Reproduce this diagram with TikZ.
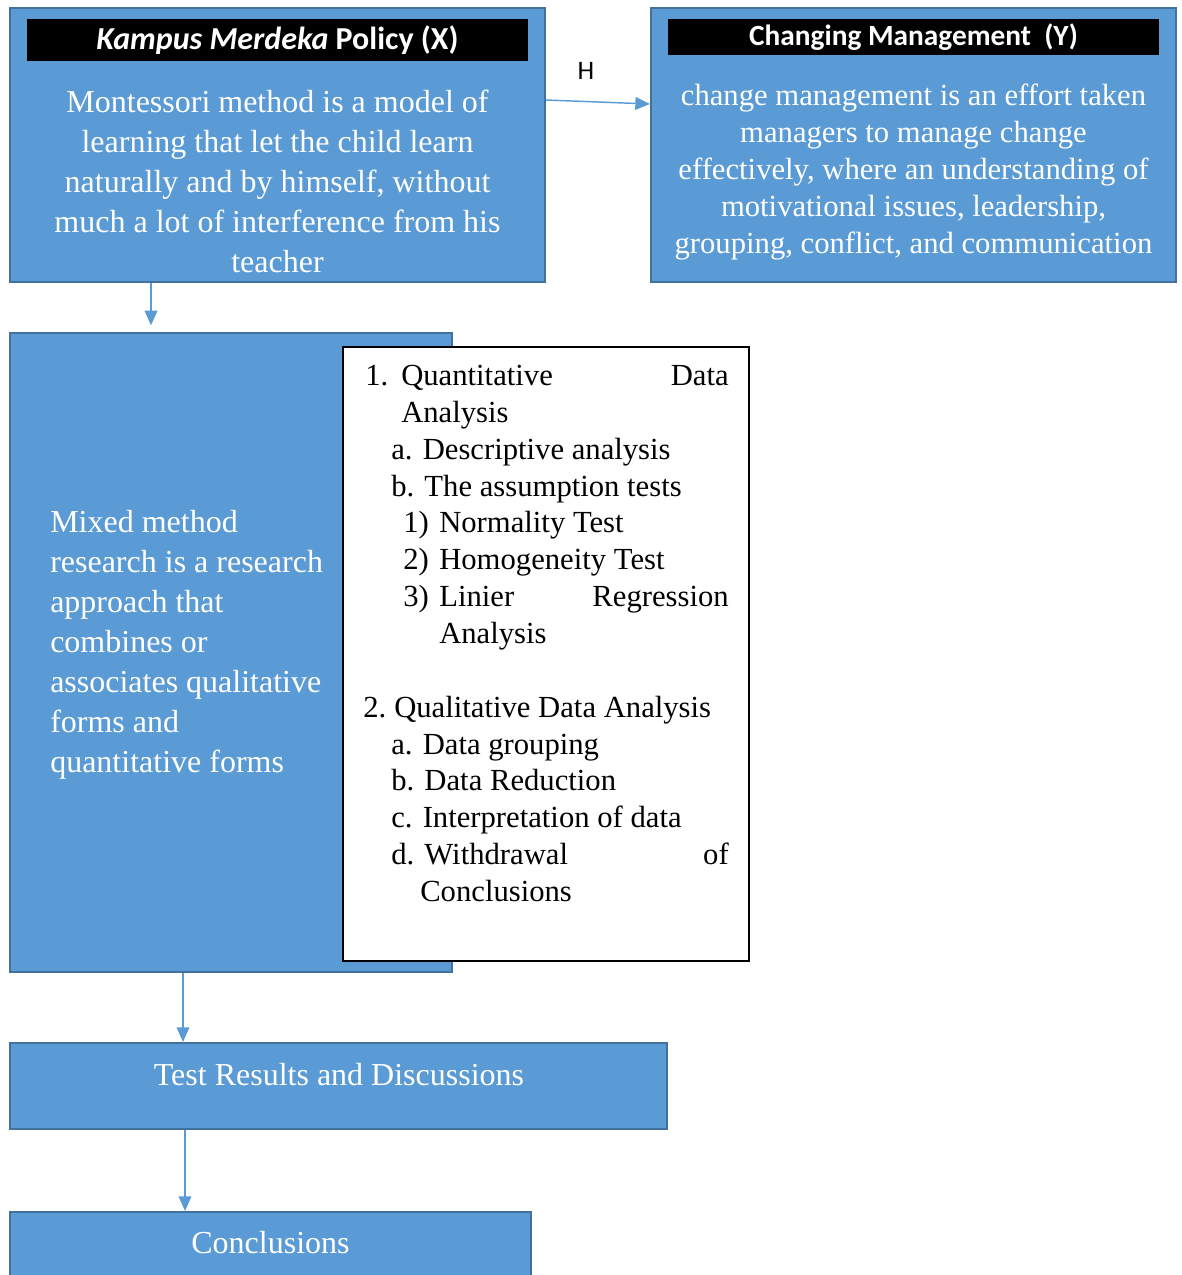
\documentclass[tikz,border=0pt]{standalone}
\usepackage{fontspec}
\setmainfont{Liberation Serif}
\newfontfamily\hdfont{Carlito}
\usetikzlibrary{arrows.meta}
\definecolor{boxblue}{HTML}{5B9BD5}
\definecolor{boxedge}{HTML}{41719C}
\begin{document}
\begin{tikzpicture}[x=0.75pt,y=-0.75pt,
 bluebox/.style={fill=boxblue,draw=boxedge,line width=1.5pt,inner sep=0},
 whitebox/.style={fill=white,draw=black,line width=0.8pt,inner sep=0},
 hdbar/.style={fill=black,inner sep=0,text=white,font=\hdfont\fontsize{22}{26}\selectfont\bfseries},
 bodytext/.style={text=white,font=\fontsize{24}{30}\selectfont,align=center,inner sep=0},
 lt/.style={font=\fontsize{23}{28}\selectfont,inner sep=0,anchor=base west},
 lte/.style={font=\fontsize{23}{28}\selectfont,inner sep=0,anchor=base east},
 link/.style={draw=boxblue,line width=1.1pt,-{Triangle[length=11pt,width=9.5pt]}},
]
\useasboundingbox (0,0) rectangle (1182,1275);

% top boxes
\node[bluebox,minimum width=401.25pt,minimum height=205.5pt] (bx) at (277.5,145) {};
\node[hdbar,minimum width=375.75pt,minimum height=31.5pt,font=\hdfont\fontsize{24}{28}\selectfont\bfseries] (hx) at (277.5,40) {\textit{Kampus Merdeka} Policy (X)};
\node[bodytext] (tx) at (277.5,181) {Montessori method is a model of\\learning that let the child learn\\naturally and by himself, without\\much a lot of interference from his\\teacher};

\node[bluebox,minimum width=393.75pt,minimum height=205.5pt] (by) at (913.5,145) {};
\node[hdbar,minimum width=368.25pt,minimum height=27pt] (hy) at (913.5,37) {Changing Management\ \ (Y)};
\node[bodytext,font=\fontsize{23}{27.75}\selectfont] (ty) at (913.5,172) {change management is an effort taken\\managers to manage change\\effectively, where an understanding of\\motivational issues, leadership,\\grouping, conflict, and communication};

\node[font=\hdfont\fontsize{20}{22}\selectfont,inner sep=0] (hl) at (586,71) {H};

% middle
\node[bluebox,minimum width=331.5pt,minimum height=479.25pt] (mx) at (231,652.5) {};
\node[text=white,font=\fontsize{24}{30}\selectfont,align=left,inner sep=0,anchor=west] (tm) at (50,645) {Mixed method\\research is a research\\approach that\\combines or\\associates qualitative\\forms and\\quantitative forms};

\node[whitebox,minimum width=304.5pt,minimum height=460.5pt] (wb) at (546,654) {};
\node[lt] (l1a) at (365,385) {1.};
\node[lt] (l1b) at (401,385) {Quantitative};
\node[lte] (l1c) at (729,385) {Data};
\node[lt] (l2) at (401,422) {Analysis};
\node[lt] (l3) at (391,459) {a. Descriptive analysis};
\node[lt] (l4) at (391,496) {b. The assumption tests};
\node[lt] (l5a) at (403,532) {1)};
\node[lt] (l5b) at (439,532) {Normality Test};
\node[lt] (l6a) at (403,569) {2)};
\node[lt] (l6b) at (439,569) {Homogeneity Test};
\node[lt] (l7a) at (403,606) {3)};
\node[lt] (l7b) at (439,606) {Linier};
\node[lte] (l7c) at (729,606) {Regression};
\node[lt] (l8) at (439,643) {Analysis};
\node[lt] (l9a) at (363,717) {2.};
\node[lt] (l9b) at (394,717) {Qualitative Data Analysis};
\node[lt] (l10) at (391,754) {a. Data grouping};
\node[lt] (l11) at (391,790) {b. Data Reduction};
\node[lt] (l12) at (391,827) {c. Interpretation of data};
\node[lt] (l13a) at (391,864) {d. Withdrawal};
\node[lte] (l13b) at (729,864) {of};
\node[lt] (l14) at (420,901) {Conclusions};

% bottom
\node[bluebox,minimum width=492.75pt,minimum height=64.5pt] (tb) at (338.5,1086) {};
\node[bodytext] (tt) at (339,1075) {Test Results and Discussions};
\node[bluebox,minimum width=390.75pt,minimum height=60pt] (cb) at (270.5,1252) {};
\node[bodytext] (ct) at (270.5,1243) {Conclusions};

% connectors
\coordinate (c1) at (151,0);
\coordinate (c2) at (183,0);
\coordinate (c3) at (185,0);
\draw[link] ([yshift=33.75pt]bx.east) -- ([yshift=30.75pt]by.west);
\draw[link,shorten >=5pt] (bx.south -| c1) -- (mx.north -| c1);
\draw[link] (mx.south -| c2) -- (tb.north -| c2);
\draw[link] (tb.south -| c3) -- (cb.north -| c3);
\end{tikzpicture}
\end{document}
